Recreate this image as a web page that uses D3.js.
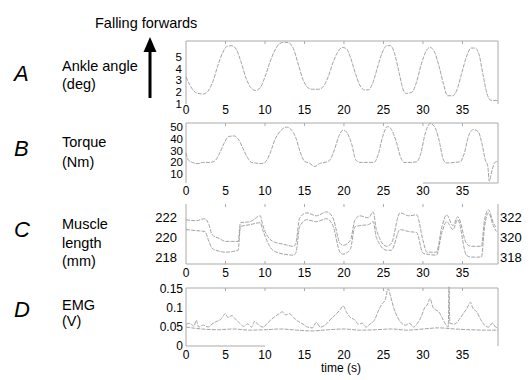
<!DOCTYPE html>
<html>
<head>
<meta charset="utf-8">
<script src="https://cdn.jsdelivr.net/npm/d3@7"></script>
<style>
  html, body { margin: 0; padding: 0; background: #fff; }
  svg { display: block; font-family: "Liberation Sans", Arial, sans-serif; }
</style>
</head>
<body>
<svg id="chart" width="532" height="380"></svg>
<script>
// ---------- DATA ----------
const xTicks = [0, 5, 10, 15, 20, 25, 30, 35];

// A: ankle angle (deg)
const ankleT = [0,0.5,1,1.5,2.2,2.8,3.4,4,4.6,5.2,5.8,6.4,7,7.6,8.2,8.8,9.4,10,10.6,11.2,11.8,12.4,13,13.6,14.2,14.8,15.4,16,16.8,17.4,18,18.6,19.2,19.8,20.3,20.8,21.4,22,22.6,23.1,23.6,24.2,24.8,25.4,25.9,26.4,27,27.5,27.9,28.6,29.2,29.8,30.4,30.9,31.4,32,32.6,33.1,33.8,34.3,34.9,35.5,36.1,36.6,37.1,37.6,38.1,38.5,39,39.5];
const ankleV = [3.3,2.6,2.1,1.9,1.85,2.1,2.9,4.2,5.3,5.9,5.95,5.6,4.5,3.2,2.4,2.15,2.4,3.3,4.5,5.5,6.1,6.25,6.2,5.7,4.4,3.1,2.4,2.25,2.25,2.5,3.3,4.5,5.4,5.8,5.7,5.0,3.7,2.6,2.2,2.2,2.7,4.0,5.3,5.95,5.95,5.3,3.6,2.2,1.9,2.0,2.9,4.4,5.5,5.8,5.5,4.3,2.7,1.7,1.7,2.2,3.6,5.0,5.75,5.75,5.2,3.5,1.9,1.35,1.3,1.3];
const ankleTicks = [1, 2, 3, 4, 5];

// B: torque (Nm)
const torqueT = [0,0.3,0.8,1.5,2.2,3,3.6,4.2,4.8,5.4,6.1,6.6,7.2,7.8,8.3,8.8,9.5,10,10.6,11.3,12,12.7,13.3,13.9,14.5,15,15.6,16.3,16.9,17.6,18.2,18.8,19.4,19.9,20.4,21,21.5,22,23,23.8,24.3,24.9,25.5,26,26.6,27.2,27.6,28.5,29.2,29.7,30.3,30.9,31.4,32,32.6,33,34,34.7,35.2,35.8,36.4,37,37.5,37.9,38.2,38.4,38.7,39.1,39.5];
const torqueV = [28,22,20,19,20,20,21,27,36,42,42.5,40,32,24,20,19.5,19,20,27,40,47,50,48,41,28,21,19.5,16.5,19,20,22,31,43,47.5,45,35,22,20,20,20,26,42,50.5,48,38,24,20,20,20.5,27,45,53,51,40,22,19.5,20,20.5,27,43,48,46,35,22,17,4,12,20,21];
const torqueTicks = [10, 20, 30, 40, 50];

// C: muscle length (mm), two traces (left and right axes)
const muscleT = [0,1.2,2.4,2.9,3.3,4.2,5,6.6,6.9,8.1,9.4,9.7,11,12.4,13.6,13.9,14.4,15.3,16.5,17.8,18.6,19.5,19.9,20.8,21.4,22,23.1,23.7,24.1,25.4,26,27.1,28.2,29.2,30,30.5,31.7,32.4,33,33.8,34.4,35.5,36.1,37.4,37.8,38.3,38.9,39.3];
const muscleLeft = [221.8,221.7,221.9,221.3,220.3,219.9,219.6,219.6,221.5,221.6,222.2,221.3,219.6,219.3,219.1,219.4,222,222.5,222.2,222.6,222,219.4,219.2,219.7,221.8,222.2,222,222.6,220.8,219.1,219.4,222.5,222.2,222.3,219.7,218.5,218.5,221.1,222.3,221.2,222.1,219.4,219.1,219.1,221.8,222.8,221.5,221];
const muscleRight = [320.8,320.7,320.6,319.6,318.9,318.6,318.5,318.7,321.1,321.3,321.5,320.8,318.7,318.3,318.2,318.4,321.1,321.8,321.6,321.9,321.2,318.5,318.3,318.8,321.1,321.2,321.3,321.6,320,318.7,318.7,320.8,320.6,320.5,318.4,318.3,318.2,320.5,321.6,320.8,321.8,318.2,318,318,321.1,322.5,321.2,320.6];
const muscleTicksL = [218, 220, 222];
const muscleTicksR = [318, 320, 322];

// D: EMG (V), two traces
const emgT = [0,0.5,1,1.3,1.6,2.2,2.8,3.3,3.9,4.4,5,5.3,5.8,6.2,6.8,7.3,7.8,8.3,8.7,9.2,9.8,10.3,10.8,11.3,11.8,12.2,12.6,13.1,13.6,14.2,14.8,15.4,16,16.5,17,17.6,18.3,18.9,19.5,19.9,20.3,20.8,21.3,21.8,22.3,22.8,23.3,23.9,24.3,24.8,25.2,25.6,25.9,26.3,26.8,27.3,27.8,28.3,28.8,29.3,29.8,30.2,30.6,30.9,31.2,31.6,32,32.4,32.8,33.2,33.3,33.4,34,34.6,35.1,35.6,36,36.3,36.8,37.3,37.8,38.3,38.8,39.2,39.5];
const emgHigh = [0.057,0.06,0.052,0.068,0.05,0.055,0.05,0.058,0.065,0.07,0.085,0.075,0.08,0.072,0.06,0.052,0.058,0.05,0.065,0.055,0.05,0.06,0.07,0.078,0.085,0.09,0.082,0.085,0.075,0.065,0.058,0.05,0.048,0.062,0.05,0.055,0.07,0.082,0.095,0.105,0.09,0.075,0.07,0.058,0.06,0.05,0.058,0.07,0.09,0.11,0.12,0.15,0.13,0.1,0.075,0.06,0.055,0.06,0.05,0.06,0.078,0.1,0.11,0.125,0.105,0.095,0.09,0.075,0.06,0.05,0.155,0.06,0.058,0.07,0.085,0.1,0.115,0.1,0.09,0.07,0.055,0.05,0.06,0.05,0.048];
const emgLowT = [0,2,4,6,8,10,12,14,16,18,20,22,24,26,28,30,32,34,36,38,39.5];
const emgLow = [0.05,0.045,0.043,0.045,0.042,0.043,0.045,0.042,0.04,0.043,0.045,0.042,0.043,0.045,0.042,0.045,0.048,0.045,0.043,0.042,0.042];
const emgTicks = [0, 0.05, 0.1, 0.15];

// ---------- DRAW ----------
const svg = d3.select("#chart");
const x = d3.scaleLinear().domain([0, 39.5]).range([186, 498]);
const axisColor = "#aaa";
const traceColor = "#999";

function hline(y, t0, t1) {
  svg.append("line").attr("x1", x(t0)).attr("x2", x(t1)).attr("y1", y).attr("y2", y)
    .attr("stroke", axisColor).attr("stroke-width", 1);
}
function vline(xp, y0, y1) {
  svg.append("line").attr("x1", xp).attr("x2", xp).attr("y1", y0).attr("y2", y1)
    .attr("stroke", axisColor).attr("stroke-width", 1);
}
function trace(ts, vs, y) {
  const pts = ts.map((t, i) => [x(t), y(vs[i])]);
  svg.append("path").attr("d", d3.line().curve(d3.curveMonotoneX)(pts))
    .attr("fill", "none").attr("stroke", traceColor).attr("stroke-width", 0.9)
    .attr("stroke-dasharray", "4,1.2");
}
function xLabels(baseline) {
  svg.append("g").selectAll("text").data(xTicks).join("text")
    .attr("x", d => x(d)).attr("y", baseline).attr("text-anchor", "middle")
    .attr("font-size", 12).text(d => d);
}
function xTickMarks(y, dir) {
  svg.append("g").selectAll("line").data(xTicks.slice(1)).join("line")
    .attr("x1", d => x(d)).attr("x2", d => x(d)).attr("y1", y).attr("y2", y + dir * 3)
    .attr("stroke", axisColor);
}
function yLabels(ticks, y, xp, anchor, size, fmt) {
  svg.append("g").selectAll("text").data(ticks).join("text")
    .attr("x", xp).attr("y", d => y(d)).attr("dy", "0.35em").attr("text-anchor", anchor)
    .attr("font-size", size).text(fmt || (d => d));
}

// Panel A
const yA = d3.scaleLinear().domain([1, 6.35]).range([104, 41]);
hline(41, 0, 39.5); vline(x(0), 41, 104); vline(x(39.5), 41, 104);
xTickMarks(41, 1);
trace(ankleT, ankleV, yA);
yLabels(ankleTicks, yA, 182, "end", 11.5);
xLabels(114);

// Panel B
const yB = d3.scaleLinear().domain([2.5, 53.5]).range([183, 123]);
hline(123, 0, 39.5); vline(x(0), 123, 183); vline(x(39.5), 123, 183);
hline(183, 30, 39.5);
xTickMarks(123, 1);
trace(torqueT, torqueV, yB);
yLabels(torqueTicks, yB, 183, "end", 11.5);
xLabels(195);

// Panel C
const yC = d3.scaleLinear().domain([217.3, 223.4]).range([264, 204]);
const yC2 = d3.scaleLinear().domain([317.3, 323.4]).range([264, 204]);
vline(x(0), 204, 264); vline(x(39.5), 204, 264); hline(264, 0, 39.5);
xTickMarks(204, 1); xTickMarks(264, -1);
trace(muscleT, muscleLeft, yC);
trace(muscleT, muscleRight, yC2);
yLabels(muscleTicksL, yC, 177, "end", 13);
yLabels(muscleTicksR, yC2, 500, "start", 13);
xLabels(277);

// Panel D
const yD = d3.scaleLinear().domain([-0.002, 0.152]).range([347, 288]);
hline(288, 0, 39.5); vline(x(0), 288, 346); vline(x(39.5), 288, 346);
hline(346, 0, 10);
xTickMarks(288, 1);
trace(emgLowT, emgLow, yD);
trace(emgT, emgHigh, yD);
yLabels(emgTicks, yD, 183, "end", 12, d => d === 0 ? "0" : String(d));
xLabels(359);
svg.append("text").attr("x", 341).attr("y", 372).attr("text-anchor", "middle")
  .attr("font-size", 12).text("time (s)");

// Left side labels
const letters = [["A", 73], ["B", 148], ["C", 229], ["D", 309]];
svg.append("g").selectAll("text").data(letters).join("text")
  .attr("x", 14).attr("y", d => d[1]).attr("dy", "0.35em")
  .attr("font-size", 22).attr("font-style", "italic").text(d => d[0]);

const names = [
  ["Ankle angle", 66], ["(deg)", 84],
  ["Torque", 142], ["(Nm)", 162],
  ["Muscle", 224], ["length", 243], ["(mm)", 261],
  ["EMG", 305], ["(V)", 321]
];
svg.append("g").selectAll("text").data(names).join("text")
  .attr("x", 62).attr("y", d => d[1]).attr("dy", "0.35em")
  .attr("font-size", 14.5).text(d => d[0]);

// Falling forwards arrow
svg.append("text").attr("x", 95).attr("y", 23).attr("dy", "0.35em")
  .attr("font-size", 14.5).text("Falling forwards");
svg.append("line").attr("x1", 150).attr("x2", 150).attr("y1", 98).attr("y2", 50)
  .attr("stroke", "#000").attr("stroke-width", 3);
svg.append("path").attr("d", "M150,37 L156.5,52 L143.5,52 Z").attr("fill", "#000");
</script>
</body>
</html>
